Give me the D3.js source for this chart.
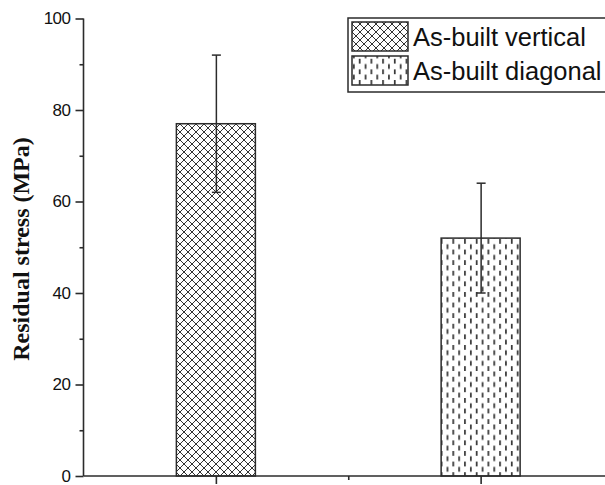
<!DOCTYPE html>
<html><head><meta charset="utf-8">
<script src="https://cdn.jsdelivr.net/npm/d3@7"></script>
<style>body{margin:0;background:#fff}svg{display:block}</style>
</head><body>
<svg id="c" width="605" height="485"></svg>
<script>
const categories = ["As-built vertical", "As-built diagonal"];
const values = [77, 52];
const errors = [15, 12];
const patterns = ["cross", "dash"];
const yTicks = [0, 20, 40, 60, 80, 100];
const yMinor = [10, 30, 50, 70, 90];
const yTitle = "Residual stress (MPa)";

const svg = d3.select("#c");
const defs = svg.append("defs");
const ink = "#2b2b2b";

const P = 8;
const pc = defs.append("pattern").attr("id","cross").attr("patternUnits","userSpaceOnUse")
  .attr("width",P).attr("height",P);
pc.append("rect").attr("width",P).attr("height",P).attr("fill","#fff");
pc.append("path").attr("d",`M0,0L${P},${P}M${P},0L0,${P}`).attr("stroke","#333").attr("stroke-width",1).attr("fill","none");

const pd = defs.append("pattern").attr("id","dash").attr("patternUnits","userSpaceOnUse")
  .attr("width",11.7).attr("height",10.6);
pd.append("rect").attr("width",11.7).attr("height",10.6).attr("fill","#fff");
pd.append("rect").attr("x",2).attr("y",0.5).attr("width",1.7).attr("height",4.8).attr("fill","#333");
pd.append("rect").attr("x",7.8).attr("y",5.8).attr("width",1.7).attr("height",4.8).attr("fill","#333");

const x = d3.scaleLinear().domain([0.5, 2.5]).range([83.5, 613]);
const y = d3.scaleLinear().domain([0, 100]).range([476, 18.5]);
const barW = 79;

// bars
svg.selectAll("rect.bar").data(values).join("rect").attr("class","bar")
  .attr("x",(d,i)=>x(i+1)-barW/2).attr("y",d=>y(d))
  .attr("width",barW).attr("height",d=>y(0)-y(d))
  .attr("fill",(d,i)=>`url(#${patterns[i]})`).attr("stroke",ink).attr("stroke-width",1.5);

// error bars
const eg = svg.append("g").attr("stroke",ink).attr("stroke-width",1.5).attr("fill","none");
values.forEach((v,i)=>{
  const cx = x(i+1)+0.5;
  eg.append("line").attr("x1",cx).attr("x2",cx).attr("y1",y(v+errors[i])).attr("y2",y(v-errors[i]));
  eg.append("line").attr("x1",cx-4.5).attr("x2",cx+4.5).attr("y1",y(v+errors[i])).attr("y2",y(v+errors[i]));
  eg.append("line").attr("x1",cx-4.5).attr("x2",cx+4.5).attr("y1",y(v-errors[i])).attr("y2",y(v-errors[i]));
});

// y axis
const ya = svg.append("g").attr("transform",`translate(${x(0.5)},0)`)
  .call(d3.axisLeft(y).tickValues(yTicks).tickSize(8).tickPadding(5).tickFormat(d3.format("d")));
ya.select(".domain").attr("stroke",ink).attr("stroke-width",1.6).attr("d",`M0,${y(100)}V${y(0)}`);
ya.selectAll(".tick line").attr("stroke",ink).attr("stroke-width",1.6);
ya.selectAll(".tick text").attr("font-family","Arial, 'Liberation Sans', sans-serif").attr("font-size",17)
  .attr("letter-spacing","-0.5px").attr("fill","#111");
const yb = svg.append("g").attr("transform",`translate(${x(0.5)},0)`)
  .call(d3.axisLeft(y).tickValues(yMinor).tickSize(4).tickFormat(""));
yb.select(".domain").remove();
yb.selectAll(".tick line").attr("stroke",ink).attr("stroke-width",1.6);

// x axis
const xa = svg.append("g").attr("transform",`translate(0,${y(0)})`)
  .call(d3.axisBottom(x).tickValues([1,2]).tickSize(8).tickFormat(""));
xa.select(".domain").attr("stroke",ink).attr("stroke-width",1.6).attr("d",`M${x(0.5)},0H${x(2.5)}`);
xa.selectAll(".tick line").attr("stroke",ink).attr("stroke-width",1.6);
const xb = svg.append("g").attr("transform",`translate(0,${y(0)})`)
  .call(d3.axisBottom(x).tickValues([1.5]).tickSize(4).tickFormat(""));
xb.select(".domain").remove();
xb.selectAll(".tick line").attr("stroke",ink).attr("stroke-width",1.6);

// y title
svg.append("text").attr("transform",`translate(29,249) rotate(-90)`)
  .attr("text-anchor","middle").attr("font-family","'Liberation Serif','Times New Roman',serif")
  .attr("font-weight","bold").attr("font-size",24).attr("fill","#111").text(yTitle);

// legend
const lg = svg.append("g");
lg.append("rect").attr("x",348).attr("y",18).attr("width",300).attr("height",74)
  .attr("fill","#fff").attr("stroke",ink).attr("stroke-width",1.5);
categories.forEach((c,i)=>{
  const yy = 22 + i*34;
  lg.append("rect").attr("x",352).attr("y",yy).attr("width",56).attr("height",29)
    .attr("fill",`url(#${patterns[i]})`).attr("stroke",ink).attr("stroke-width",1.5);
  lg.append("text").attr("x",413).attr("y",yy+15).attr("dy","0.35em")
    .attr("font-family","Arial, 'Liberation Sans', sans-serif").attr("font-size",25.5).attr("fill","#111").text(c);
});
</script>
</body></html>
